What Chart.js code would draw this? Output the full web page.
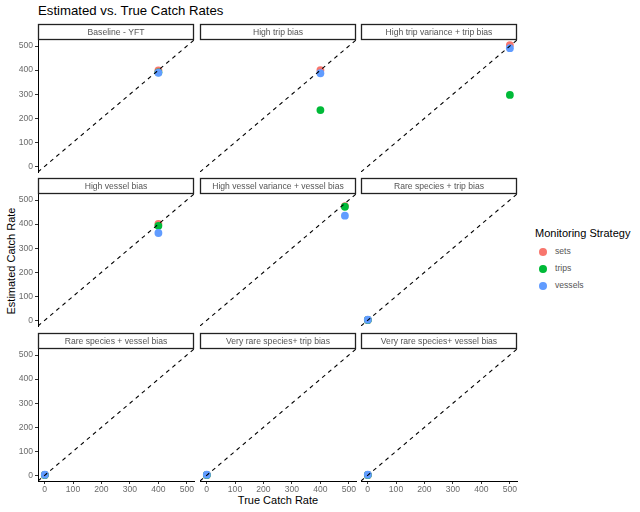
<!DOCTYPE html>
<html><head><meta charset="utf-8">
<script src="https://cdn.jsdelivr.net/npm/chart.js@4.4.1/dist/chart.umd.min.js"></script>
<style>
html,body{margin:0;padding:0;background:#fff;}
body{width:640px;height:512px;position:relative;overflow:hidden;font-family:"Liberation Sans",Arial,sans-serif;}
canvas{position:absolute;}
.t{position:absolute;white-space:nowrap;color:#000;line-height:1;}
.dot{position:absolute;width:7.8px;height:7.8px;border-radius:50%;}
</style></head><body>
<div class="t" style="left:38px;top:3.8px;font-size:13.2px;">Estimated vs. True Catch Rates</div>
<div class="t" style="left:278px;top:494.7px;font-size:11px;transform:translateX(-50%);">True Catch Rate</div>
<div class="t" style="left:11px;top:261px;font-size:11px;transform:translate(-50%,-50%) rotate(-90deg);">Estimated Catch Rate</div>
<div class="t" style="left:535px;top:228.2px;font-size:11px;">Monitoring Strategy</div>
<div id="legend"></div>
<script>
// ---- data ----
const panelNames = ["Baseline - YFT", "High trip bias", "High trip variance + trip bias",
  "High vessel bias", "High vessel variance + vessel bias", "Rare species + trip bias",
  "Rare species + vessel bias", "Very rare species+ trip bias", "Very rare species+ vessel bias"];
const strategies = ["sets", "trips", "vessels"];
const trueRate   = [400, 400, 500, 400, 486, 1, 1, 1, 1];
const estSets    = [399, 400, 504, 401, 475, 2, 2, 2, 2];
const estTrips   = [391, 234, 297, 393, 472, 2, 2, 2, 2];
const estVessels = [389, 387, 491, 363, 435, 3, 3, 3, 3];
const axisTicks  = [0, 100, 200, 300, 400, 500];
const axisMin = -23, axisMax = 525;

// ---- style ----
const FONT = '"Liberation Sans", Arial, sans-serif';
Chart.defaults.font.family = FONT;
const colors = ["#F8766D", "#00BA38", "#619CFF"];
const estByStrategy = [estSets, estTrips, estVessels];
const colLeft = [38, 200, 361], rowTop = [40, 194, 349];
const PW = 156, PH = 132, STRIP = 16, LPAD = 34, BPAD = 24, TPAD = 18, RPAD = 4;

const stripPlugin = {
  id: 'strip',
  afterDraw(chart, args, opts) {
    const {ctx, chartArea: a} = chart;
    ctx.save();
    ctx.fillStyle = '#fff';
    ctx.fillRect(a.left, a.top - STRIP, a.right - a.left, STRIP);
    ctx.strokeStyle = '#222';
    ctx.lineWidth = 1.3;
    ctx.strokeRect(a.left + 0.5, a.top - STRIP + 0.5, a.right - a.left - 1, STRIP - 1);
    ctx.fillStyle = '#555';
    ctx.font = '8.6px ' + FONT;
    ctx.textAlign = 'center';
    ctx.textBaseline = 'middle';
    ctx.fillText(opts.text, (a.left + a.right) / 2, a.top - STRIP / 2 + 0.5);
    ctx.restore();
  }
};

panelNames.forEach((name, i) => {
  const r = Math.floor(i / 3), c = i % 3;
  const cv = document.createElement('canvas');
  cv.width = LPAD + PW + RPAD; cv.height = TPAD + PH + BPAD;
  cv.style.left = (colLeft[c] - LPAD) + 'px';
  cv.style.top = (rowTop[r] - TPAD) + 'px';
  cv.style.width = cv.width + 'px'; cv.style.height = cv.height + 'px';
  document.body.appendChild(cv);
  const showX = r === 2, showY = c === 0;
  const datasets = [{
    type: 'line',
    data: [{x: axisMin, y: axisMin}, {x: axisMax, y: axisMax}],
    borderColor: '#000', borderWidth: 1.1, borderDash: [4, 4],
    pointRadius: 0, fill: false, order: 0
  }];
  strategies.forEach((s, k) => {
    datasets.push({
      label: s,
      data: [{x: trueRate[i], y: estByStrategy[k][i]}],
      backgroundColor: colors[k], borderWidth: 0, pointRadius: 3.9,
      order: 3 - k
    });
  });
  const axis = (show, fit, pad) => ({
    type: 'linear', min: axisMin, max: axisMax,
    afterBuildTicks: s => { s.ticks = axisTicks.map(v => ({value: v})); },
    afterFit: fit,
    grid: {display: show, drawOnChartArea: false, drawTicks: true, tickLength: 3, color: '#333'},
    border: {display: show, color: '#000', width: 1},
    ticks: {display: show, padding: pad, color: '#6a6a6a', font: {size: 8.6}}
  });
  new Chart(cv, {
    type: 'scatter',
    data: {datasets},
    options: {
      responsive: false, animation: false, devicePixelRatio: 1, events: [],
      layout: {padding: {top: TPAD, right: RPAD, left: 0, bottom: 0}},
      plugins: {legend: {display: false}, tooltip: {enabled: false}, strip: {text: name}},
      scales: {
        x: axis(showX, s => { s.height = BPAD; }, 0),
        y: axis(showY, s => { s.width = LPAD; }, 2)
      }
    },
    plugins: [stripPlugin]
  });
});

// legend
const leg = document.getElementById('legend');
strategies.forEach((s, k) => {
  const cy = 251.7 + k * 17.3;
  const d = document.createElement('div');
  d.className = 'dot';
  d.style.left = (542.7 - 3.9) + 'px'; d.style.top = (cy - 3.9) + 'px';
  d.style.background = colors[k];
  leg.appendChild(d);
  const t = document.createElement('div');
  t.className = 't';
  t.style.left = '555px'; t.style.top = (cy - 4.3 - 0.7) + 'px';
  t.style.fontSize = '8.6px'; t.style.color = '#555';
  t.textContent = s;
  leg.appendChild(t);
});
</script>
</body></html>
